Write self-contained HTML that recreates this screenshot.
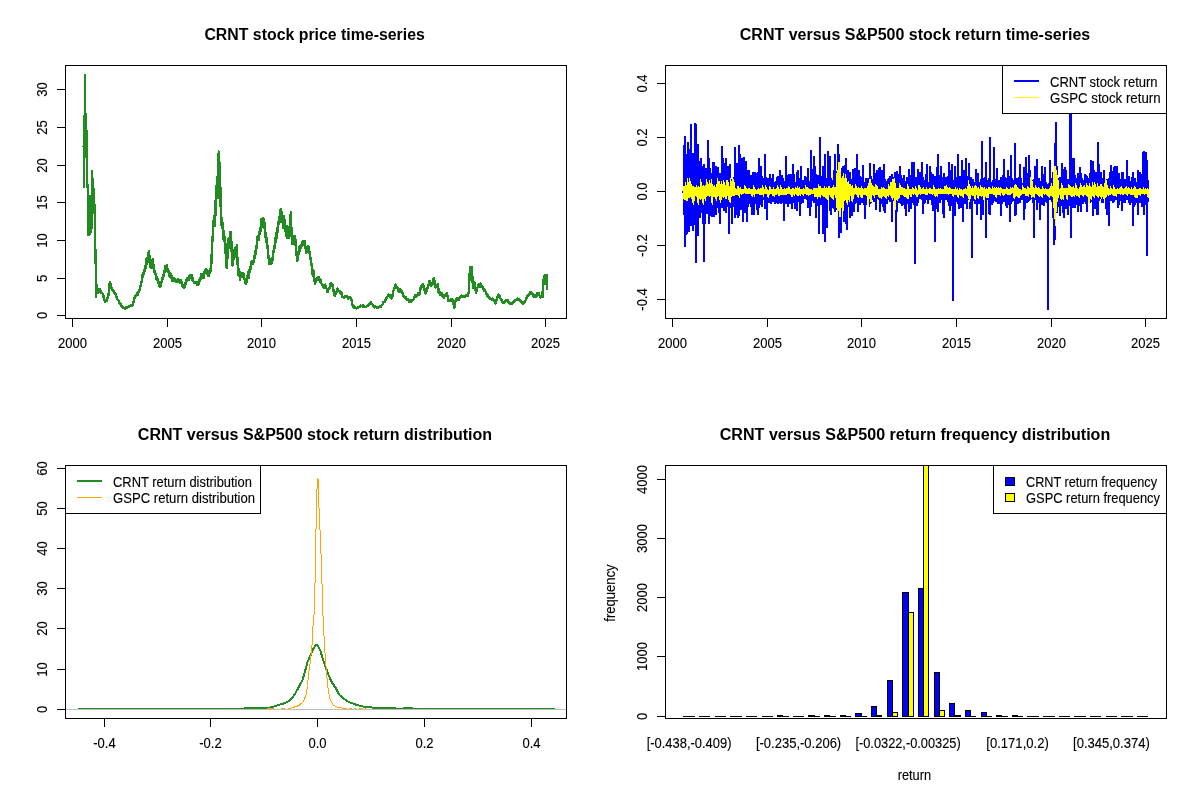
<!DOCTYPE html>
<html lang="en"><head><meta charset="utf-8"><title>CRNT versus S&amp;P500</title>
<style>
html,body{margin:0;padding:0;background:#fff;}
svg{display:block}
text{font-family:"Liberation Sans",Arial,sans-serif;fill:#000;}
.t{font-size:13.8px;stroke:#000;stroke-width:0.12px}
.h{font-size:15.94px;font-weight:bold}
</style></head><body>
<svg width="1200" height="800" viewBox="0 0 1200 800">
<rect width="1200" height="800" fill="#fff"/>
<g shape-rendering="crispEdges">
<path d="M82 146h1v1h-1zM83 115h1v73h-1zM84 74h1v114h-1zM85 74h1v84h-1zM86 113h1v75h-1zM87 130h1v106h-1zM88 184h1v52h-1zM89 195h1v41h-1zM90 195h1v40h-1zM91 170h1v63h-1zM92 170h1v59h-1zM93 178h1v36h-1zM94 188h1v76h-1zM95 204h1v94h-1zM96 249h1v49h-1z" fill="#228B22" stroke="none"/>
<path d="M95.8 297.0 L96.6 285.0 L97.2 287.0 L98.0 293.0 L98.5 290.4 L99.0 289.0 L99.5 288.8 L100.0 291.0 L100.5 292.2 L101.0 290.9 L101.5 293.0 L102.0 293.4 L102.5 293.2 L103.0 294.0 L103.5 295.7 L104.0 300.0 L104.5 300.8 L105.0 301.5 L105.5 300.1 L106.0 300.8 L106.5 299.7 L107.0 300.5 L107.5 297.6 L108.0 296.6 L108.5 295.0 L109.0 290.7 L109.5 284.0 L110.2 282.0 L111.0 288.0 L111.5 287.6 L112.0 290.0 L112.5 289.4 L113.0 291.1 L113.5 291.0 L114.0 293.2 L114.5 292.6 L115.0 293.0 L115.5 294.0 L116.0 297.1 L116.5 297.0 L117.0 296.8 L117.5 299.9 L118.0 300.0 L118.5 300.5 L119.0 301.2 L119.5 303.0 L120.0 302.8 L120.5 303.9 L121.0 305.0 L121.5 306.3 L122.0 305.6 L122.5 307.0 L123.0 307.5 L123.5 308.1 L124.0 308.0 L124.5 308.7 L125.0 309.0 L125.5 307.9 L126.0 307.5 L126.5 307.4 L127.0 307.5 L127.5 307.6 L128.0 306.9 L128.5 306.4 L129.0 306.5 L129.5 306.4 L130.0 305.9 L130.5 305.4 L131.0 305.5 L131.5 305.8 L132.0 305.4 L132.5 304.2 L133.0 304.5 L133.6 301.9 L134.2 299.0 L135.0 296.0 L135.5 295.6 L136.0 296.1 L136.5 295.2 L137.0 294.0 L137.5 292.8 L138.0 294.6 L138.5 291.2 L139.0 292.0 L139.5 289.7 L140.0 289.0 L140.5 286.0 L141.0 282.6 L141.5 282.0 L142.0 280.0 L142.0 279.1 L142.0 280.9 L142.0 280.0 L142.5 275.8 L142.5 274.8 L142.5 276.9 L142.5 275.8 L143.0 276.8 L143.0 276.3 L143.0 277.4 L143.0 276.8 L143.5 274.0 L143.5 273.1 L143.5 274.9 L143.5 274.0 L144.0 273.4 L144.0 272.5 L144.0 274.3 L144.0 273.4 L144.5 270.4 L144.5 269.2 L144.5 271.6 L144.5 270.4 L145.0 268.0 L145.0 266.7 L145.0 269.3 L145.0 268.0 L145.5 267.6 L145.5 266.3 L145.5 268.9 L145.5 267.6 L146.1 261.5 L146.1 260.3 L146.1 262.7 L146.1 261.5 L146.6 260.0 L146.6 258.4 L146.6 261.6 L146.6 260.0 L147.1 262.3 L147.1 261.0 L147.1 263.6 L147.1 262.3 L147.5 262.0 L147.5 260.7 L147.5 262.3 L147.5 262.0 L148.2 254.0 L148.2 253.0 L148.2 255.0 L148.2 254.0 L149.0 251.0 L149.0 251.0 L149.0 251.8 L149.0 251.0 L149.8 262.0 L149.8 261.2 L149.8 262.8 L149.8 262.0 L150.6 268.0 L150.6 267.1 L150.6 268.0 L150.6 268.0 L151.2 265.6 L151.2 264.9 L151.2 266.3 L151.2 265.6 L151.8 262.0 L151.8 260.6 L151.8 263.4 L151.8 262.0 L152.4 261.3 L152.4 260.1 L152.4 262.5 L152.4 261.3 L153.0 259.5 L153.0 259.5 L153.0 260.8 L153.0 259.5 L153.6 268.0 L153.6 266.9 L153.6 269.1 L153.6 268.0 L154.2 271.0 L154.2 269.9 L154.2 272.1 L154.2 271.0 L154.8 272.3 L154.8 271.4 L154.8 273.2 L154.8 272.3 L155.5 274.0 L155.5 273.5 L155.5 274.5 L155.5 274.0 L156.0 277.0 L156.0 276.0 L156.0 278.1 L156.0 277.0 L156.5 278.8 L156.5 277.9 L156.5 279.8 L156.5 278.8 L157.0 278.0 L157.0 277.2 L157.0 278.8 L157.0 278.0 L157.5 279.5 L157.5 278.8 L157.5 280.3 L157.5 279.5 L158.0 282.1 L158.5 283.0 L159.0 282.4 L159.5 286.1 L160.0 286.5 L160.5 285.6 L161.0 285.6 L161.5 282.0 L162.0 282.1 L162.5 278.3 L162.5 277.5 L162.5 279.2 L162.5 278.3 L163.0 278.0 L163.0 277.5 L163.0 278.5 L163.0 278.0 L163.5 275.4 L163.5 274.4 L163.5 276.4 L163.5 275.4 L164.0 274.9 L164.0 274.2 L164.0 275.5 L164.0 274.9 L164.5 272.0 L164.5 271.4 L164.5 272.6 L164.5 272.0 L165.2 266.8 L165.2 266.0 L165.2 267.6 L165.2 266.8 L165.8 267.0 L165.8 265.8 L165.8 268.2 L165.8 267.0 L166.6 265.0 L166.6 265.0 L166.6 265.8 L166.6 265.0 L167.1 267.3 L167.1 266.1 L167.1 268.5 L167.1 267.3 L167.6 270.0 L167.6 268.7 L167.6 271.3 L167.6 270.0 L168.1 269.9 L168.1 268.9 L168.1 270.8 L168.1 269.9 L168.5 271.3 L168.5 270.5 L168.5 272.2 L168.5 271.3 L169.0 275.0 L169.0 274.2 L169.0 275.8 L169.0 275.0 L169.5 273.3 L169.5 272.3 L169.5 274.3 L169.5 273.3 L170.0 277.3 L170.0 276.3 L170.0 277.3 L170.0 277.3 L170.5 274.7 L170.5 273.7 L170.5 275.6 L170.5 274.7 L171.0 277.0 L171.0 276.1 L171.0 277.9 L171.0 277.0 L171.5 276.5 L171.5 276.0 L171.5 277.1 L171.5 276.5 L172.0 278.0 L172.0 277.4 L172.0 278.5 L172.0 278.0 L172.5 281.0 L173.0 280.0 L173.0 279.4 L173.0 280.6 L173.0 280.0 L173.5 277.8 L173.5 277.8 L173.5 278.8 L173.5 277.8 L174.0 279.3 L174.0 278.6 L174.0 279.9 L174.0 279.3 L174.5 279.5 L174.5 278.7 L174.5 280.3 L174.5 279.5 L175.0 279.0 L175.0 278.6 L175.0 279.4 L175.0 279.0 L175.5 281.3 L176.0 281.5 L176.5 282.1 L177.0 281.0 L177.5 279.8 L177.5 279.6 L177.5 280.2 L177.5 279.8 L178.0 280.1 L178.0 279.6 L178.0 280.7 L178.0 280.1 L178.5 279.6 L178.5 279.6 L178.5 280.5 L178.5 279.6 L179.0 280.0 L179.0 279.6 L179.0 280.9 L179.0 280.0 L179.5 282.2 L180.0 283.0 L180.5 280.0 L180.5 280.0 L180.5 280.8 L180.5 280.0 L181.0 282.0 L181.5 282.0 L182.0 283.6 L182.5 286.0 L183.0 285.6 L183.5 287.3 L184.0 288.0 L184.5 287.0 L185.0 284.4 L185.5 284.0 L186.0 280.5 L186.5 281.0 L187.0 280.0 L187.0 279.4 L187.0 280.6 L187.0 280.0 L187.5 278.6 L187.5 277.9 L187.5 279.4 L187.5 278.6 L188.0 278.8 L188.0 278.1 L188.0 279.6 L188.0 278.8 L188.5 279.9 L188.5 279.2 L188.5 280.0 L188.5 279.9 L189.0 277.0 L189.0 276.5 L189.0 277.5 L189.0 277.0 L189.5 277.3 L189.5 276.2 L189.5 278.3 L189.5 277.3 L190.1 275.7 L190.1 275.1 L190.1 276.4 L190.1 275.7 L190.6 275.0 L190.6 275.0 L190.6 276.2 L190.6 275.0 L191.1 276.6 L191.1 275.5 L191.1 277.7 L191.1 276.6 L191.6 277.9 L191.6 277.4 L191.6 278.3 L191.6 277.9 L192.0 275.9 L192.0 275.1 L192.0 276.7 L192.0 275.9 L192.5 279.0 L192.5 278.0 L192.5 280.0 L192.5 279.0 L193.0 281.4 L193.5 281.5 L194.0 282.5 L194.5 282.7 L195.0 282.0 L195.5 282.2 L196.0 282.8 L196.5 282.2 L197.0 284.5 L197.5 284.9 L198.0 282.4 L198.5 284.0 L199.0 280.9 L199.5 280.2 L199.5 279.2 L199.5 281.3 L199.5 280.2 L200.0 278.7 L200.0 278.0 L200.0 279.5 L200.0 278.7 L200.5 279.0 L200.5 278.4 L200.5 279.6 L200.5 279.0 L201.0 276.9 L201.0 276.3 L201.0 277.5 L201.0 276.9 L201.5 274.1 L201.5 274.1 L201.5 275.3 L201.5 274.1 L202.0 275.0 L202.0 274.4 L202.0 275.6 L202.0 275.0 L202.5 274.1 L202.5 274.1 L202.5 275.0 L202.5 274.1 L203.0 278.0 L203.0 277.5 L203.0 278.0 L203.0 278.0 L203.5 275.8 L203.5 275.0 L203.5 276.7 L203.5 275.8 L204.0 277.0 L204.0 275.9 L204.0 278.0 L204.0 277.0 L204.5 272.5 L204.5 271.8 L204.5 273.1 L204.5 272.5 L205.0 272.0 L205.0 270.8 L205.0 273.2 L205.0 272.0 L205.7 269.5 L205.7 269.5 L205.7 270.5 L205.7 269.5 L206.3 270.5 L206.3 269.5 L206.3 271.8 L206.3 270.5 L207.0 273.0 L207.0 272.0 L207.0 274.0 L207.0 273.0 L207.5 271.2 L207.5 270.5 L207.5 271.9 L207.5 271.2 L208.1 276.2 L208.1 275.1 L208.1 276.2 L208.1 276.2 L208.6 275.0 L208.6 274.2 L208.6 275.8 L208.6 275.0 L209.1 274.6 L209.1 274.1 L209.1 275.1 L209.1 274.6 L209.5 271.2 L209.5 270.6 L209.5 271.7 L209.5 271.2 L210.0 272.0 L210.0 271.1 L210.0 272.9 L210.0 272.0 L210.5 269.9 L210.5 269.0 L210.5 270.8 L210.5 269.9 L211.0 270.5 L211.0 269.7 L211.0 271.3 L211.0 270.5 L211.6 258.0 L211.6 257.2 L211.6 258.8 L211.6 258.0 L212.0 246.0 L212.0 244.7 L212.0 247.3 L212.0 246.0 L212.6 238.0 L212.6 236.6 L212.6 239.4 L212.6 238.0 L213.2 228.0 L213.2 225.6 L213.2 230.4 L213.2 228.0 L213.8 219.0 L213.8 217.8 L213.8 220.2 L213.8 219.0 L214.4 224.0 L214.4 221.7 L214.4 226.3 L214.4 224.0 L214.9 210.0 L214.9 207.1 L214.9 212.9 L214.9 210.0 L215.4 203.0 L215.4 201.4 L215.4 204.6 L215.4 203.0 L215.9 212.0 L215.9 209.0 L215.9 215.0 L215.9 212.0 L216.4 190.0 L216.4 186.9 L216.4 193.1 L216.4 190.0 L217.0 180.5 L217.0 176.7 L217.0 184.3 L217.0 180.5 L217.5 196.0 L217.5 193.9 L217.5 198.1 L217.5 196.0 L218.0 170.0 L218.0 167.3 L218.0 172.7 L218.0 170.0 L218.8 151.5 L218.8 151.5 L218.8 154.6 L218.8 151.5 L219.2 176.0 L219.2 171.8 L219.2 180.2 L219.2 176.0 L219.6 166.0 L219.6 162.6 L219.6 169.4 L219.6 166.0 L220.0 198.5 L220.0 196.3 L220.0 200.7 L220.0 198.5 L220.4 190.0 L220.4 187.5 L220.4 192.5 L220.4 190.0 L221.0 223.0 L221.0 221.4 L221.0 224.6 L221.0 223.0 L221.8 219.0 L221.8 217.8 L221.8 220.2 L221.8 219.0 L222.3 223.0 L222.3 221.7 L222.3 224.2 L222.3 223.0 L222.8 230.0 L222.8 227.7 L222.8 232.3 L222.8 230.0 L223.5 238.0 L223.5 236.7 L223.5 239.3 L223.5 238.0 L224.2 234.0 L224.2 231.6 L224.2 236.4 L224.2 234.0 L225.0 247.0 L225.0 245.9 L225.0 248.1 L225.0 247.0 L225.5 252.6 L225.5 251.5 L225.5 253.7 L225.5 252.6 L226.1 246.0 L226.1 244.5 L226.1 247.5 L226.1 246.0 L226.7 268.0 L226.7 267.3 L226.7 268.0 L226.7 268.0 L227.3 250.0 L227.3 248.8 L227.3 251.2 L227.3 250.0 L228.0 256.0 L228.0 254.3 L228.0 257.7 L228.0 256.0 L228.6 240.0 L228.6 237.9 L228.6 242.1 L228.6 240.0 L229.2 246.0 L229.2 244.2 L229.2 247.8 L229.2 246.0 L230.0 236.0 L230.0 234.1 L230.0 237.9 L230.0 236.0 L230.5 232.8 L230.5 232.0 L230.5 235.1 L230.5 232.8 L231.0 232.0 L231.0 232.0 L231.0 234.4 L231.0 232.0 L231.6 250.0 L231.6 248.6 L231.6 251.4 L231.6 250.0 L232.2 244.0 L232.2 242.2 L232.2 245.8 L232.2 244.0 L232.7 265.5 L232.7 264.9 L232.7 265.5 L232.7 265.5 L233.4 252.0 L233.4 250.4 L233.4 253.6 L233.4 252.0 L234.2 258.0 L234.2 256.8 L234.2 259.2 L234.2 258.0 L235.0 255.0 L235.0 253.5 L235.0 256.5 L235.0 255.0 L235.4 249.2 L235.4 247.7 L235.4 250.8 L235.4 249.2 L235.9 249.0 L235.9 247.9 L235.9 250.1 L235.9 249.0 L236.4 249.6 L236.4 248.7 L236.4 250.4 L236.4 249.6 L236.8 244.7 L236.8 244.7 L236.8 246.7 L236.8 244.7 L237.5 262.0 L237.5 261.2 L237.5 262.8 L237.5 262.0 L238.1 271.3 L238.1 270.4 L238.1 272.2 L238.1 271.3 L238.6 275.0 L238.6 274.3 L238.6 275.7 L238.6 275.0 L239.2 270.0 L239.2 269.2 L239.2 270.8 L239.2 270.0 L240.0 279.6 L240.0 278.7 L240.0 279.6 L240.0 279.6 L240.5 276.6 L240.5 275.5 L240.5 277.8 L240.5 276.6 L241.0 274.0 L241.0 273.3 L241.0 274.7 L241.0 274.0 L241.5 275.4 L241.5 274.5 L241.5 276.4 L241.5 275.4 L242.0 277.0 L242.0 276.3 L242.0 277.0 L242.0 277.0 L242.5 273.4 L242.5 273.4 L242.5 274.4 L242.5 273.4 L243.0 274.0 L243.0 273.4 L243.0 274.8 L243.0 274.0 L243.5 273.7 L243.5 273.4 L243.5 274.3 L243.5 273.7 L244.0 276.6 L244.0 276.0 L244.0 277.2 L244.0 276.6 L244.5 279.0 L244.5 278.4 L244.5 279.6 L244.5 279.0 L245.2 280.5 L245.2 279.5 L245.2 281.5 L245.2 280.5 L245.8 284.0 L246.4 282.9 L247.0 279.0 L247.0 278.2 L247.0 279.8 L247.0 279.0 L247.5 275.9 L247.5 275.2 L247.5 276.5 L247.5 275.9 L248.0 273.6 L248.0 272.5 L248.0 274.8 L248.0 273.6 L248.5 276.8 L248.5 275.6 L248.5 278.0 L248.5 276.8 L249.0 273.0 L249.0 272.1 L249.0 273.9 L249.0 273.0 L249.4 271.7 L249.4 271.0 L249.4 272.3 L249.4 271.7 L249.9 268.0 L249.9 267.3 L249.9 268.8 L249.9 268.0 L250.4 268.7 L250.4 268.1 L250.4 269.4 L250.4 268.7 L250.8 267.0 L250.8 266.1 L250.8 267.9 L250.8 267.0 L251.4 262.3 L251.4 261.6 L251.4 263.1 L251.4 262.3 L252.0 263.6 L252.0 262.7 L252.0 264.4 L252.0 263.6 L252.6 261.6 L252.6 260.7 L252.6 262.5 L252.6 261.6 L253.2 263.2 L253.2 262.0 L253.2 263.6 L253.2 263.2 L253.7 261.0 L253.7 259.4 L253.7 262.5 L253.7 261.0 L254.3 257.0 L254.3 255.5 L254.3 258.5 L254.3 257.0 L254.9 256.9 L254.9 255.8 L254.9 258.0 L254.9 256.9 L255.4 252.4 L255.4 251.1 L255.4 253.6 L255.4 252.4 L256.0 252.6 L256.0 251.3 L256.0 253.9 L256.0 252.6 L256.5 247.3 L256.5 246.0 L256.5 248.6 L256.5 247.3 L257.0 244.0 L257.0 242.7 L257.0 245.3 L257.0 244.0 L257.5 237.7 L257.5 236.6 L257.5 238.7 L257.5 237.7 L258.0 237.0 L258.0 235.7 L258.0 238.3 L258.0 237.0 L258.6 237.5 L258.6 235.2 L258.6 239.8 L258.6 237.5 L259.2 233.0 L259.2 231.8 L259.2 234.2 L259.2 233.0 L259.8 231.8 L259.8 230.0 L259.8 233.6 L259.8 231.8 L260.4 230.0 L260.4 228.0 L260.4 232.0 L260.4 230.0 L261.2 222.0 L261.2 219.4 L261.2 224.6 L261.2 222.0 L262.0 225.0 L262.0 223.6 L262.0 226.4 L262.0 225.0 L262.7 217.7 L262.7 217.7 L262.7 219.4 L262.7 217.7 L263.5 226.0 L263.5 224.5 L263.5 227.5 L263.5 226.0 L264.2 221.0 L264.2 219.2 L264.2 222.8 L264.2 221.0 L265.0 228.0 L265.0 226.2 L265.0 229.8 L265.0 228.0 L265.5 235.1 L265.5 232.7 L265.5 237.4 L265.5 235.1 L266.0 237.0 L266.0 234.9 L266.0 239.1 L266.0 237.0 L266.5 240.1 L266.5 238.0 L266.5 242.2 L266.5 240.1 L267.0 246.0 L267.0 245.1 L267.0 246.9 L267.0 246.0 L267.5 246.9 L267.5 246.0 L267.5 247.7 L267.5 246.9 L268.0 252.0 L268.0 250.4 L268.0 253.6 L268.0 252.0 L268.5 257.2 L268.5 255.6 L268.5 258.8 L268.5 257.2 L269.0 258.0 L269.0 256.8 L269.0 259.2 L269.0 258.0 L269.5 263.5 L269.5 262.3 L269.5 264.0 L269.5 263.5 L270.0 262.7 L270.0 262.1 L270.0 263.3 L270.0 262.7 L270.5 264.0 L270.5 263.1 L270.5 264.0 L270.5 264.0 L270.9 262.9 L270.9 261.4 L270.9 264.0 L270.9 262.9 L271.4 260.0 L271.4 258.5 L271.4 261.5 L271.4 260.0 L271.9 261.1 L271.9 259.6 L271.9 262.6 L271.9 261.1 L272.3 259.6 L272.3 258.0 L272.3 261.3 L272.3 259.6 L272.8 257.0 L272.8 256.0 L272.8 258.0 L272.8 257.0 L273.4 251.5 L273.4 250.6 L273.4 252.4 L273.4 251.5 L274.0 250.0 L274.0 249.0 L274.0 251.0 L274.0 250.0 L274.5 246.9 L274.5 245.5 L274.5 248.4 L274.5 246.9 L275.0 243.6 L275.0 241.9 L275.0 245.3 L275.0 243.6 L275.5 240.2 L275.5 238.0 L275.5 242.4 L275.5 240.2 L275.9 235.1 L275.9 233.1 L275.9 237.1 L275.9 235.1 L276.4 237.0 L276.4 235.1 L276.4 238.9 L276.4 237.0 L276.9 230.4 L276.9 228.2 L276.9 232.6 L276.9 230.4 L277.3 230.3 L277.3 228.6 L277.3 232.0 L277.3 230.3 L277.8 230.0 L277.8 228.1 L277.8 231.9 L277.8 230.0 L278.3 223.6 L278.3 222.4 L278.3 224.8 L278.3 223.6 L278.8 222.0 L278.8 219.6 L278.8 224.4 L278.8 222.0 L279.3 220.6 L279.3 219.0 L279.3 222.1 L279.3 220.6 L279.8 215.0 L279.8 212.1 L279.8 217.9 L279.8 215.0 L280.7 208.7 L280.7 208.7 L280.7 211.2 L280.7 208.7 L281.4 220.0 L281.4 218.3 L281.4 221.7 L281.4 220.0 L282.2 214.0 L282.2 212.5 L282.2 215.5 L282.2 214.0 L283.0 228.0 L283.0 226.6 L283.0 228.0 L283.0 228.0 L283.7 218.0 L283.7 215.7 L283.7 220.3 L283.7 218.0 L284.3 226.0 L284.3 223.8 L284.3 228.2 L284.3 226.0 L285.0 221.0 L285.0 219.7 L285.0 222.3 L285.0 221.0 L285.7 232.0 L285.7 230.9 L285.7 233.1 L285.7 232.0 L286.1 234.4 L286.1 232.6 L286.1 236.1 L286.1 234.4 L286.6 228.0 L286.6 226.0 L286.6 230.0 L286.6 228.0 L287.5 237.0 L287.5 235.5 L287.5 238.0 L287.5 237.0 L288.3 232.0 L288.3 230.7 L288.3 233.3 L288.3 232.0 L289.0 238.0 L289.0 236.2 L289.0 238.0 L289.0 238.0 L289.7 226.0 L289.7 224.9 L289.7 227.1 L289.7 226.0 L290.3 222.0 L290.3 220.4 L290.3 223.6 L290.3 222.0 L290.8 212.0 L290.8 212.0 L290.8 214.1 L290.8 212.0 L291.4 230.0 L291.4 227.5 L291.4 232.5 L291.4 230.0 L292.0 243.6 L292.0 241.9 L292.0 243.6 L292.0 243.6 L292.5 240.4 L292.5 238.3 L292.5 242.5 L292.5 240.4 L293.0 238.0 L293.0 236.4 L293.0 239.6 L293.0 238.0 L293.5 243.3 L293.5 242.1 L293.5 243.6 L293.5 243.3 L294.0 241.0 L294.0 239.8 L294.0 242.2 L294.0 241.0 L294.5 242.6 L294.5 240.5 L294.5 244.7 L294.5 242.6 L295.0 235.7 L295.0 235.7 L295.0 237.7 L295.0 235.7 L295.8 245.0 L295.8 243.8 L295.8 246.2 L295.8 245.0 L296.4 252.0 L296.4 251.2 L296.4 252.8 L296.4 252.0 L297.0 260.5 L297.0 259.3 L297.0 260.8 L297.0 260.5 L297.5 260.8 L297.5 259.5 L297.5 260.8 L297.5 260.8 L298.0 255.0 L298.0 253.8 L298.0 256.2 L298.0 255.0 L298.5 252.5 L298.5 251.5 L298.5 253.6 L298.5 252.5 L299.0 252.0 L299.0 250.5 L299.0 253.5 L299.0 252.0 L299.5 248.7 L299.5 246.7 L299.5 250.6 L299.5 248.7 L300.0 249.5 L300.0 248.4 L300.0 250.6 L300.0 249.5 L300.6 246.1 L300.6 245.3 L300.6 247.0 L300.6 246.1 L301.2 247.0 L301.2 245.8 L301.2 248.2 L301.2 247.0 L301.9 243.1 L301.9 241.7 L301.9 244.5 L301.9 243.1 L302.5 244.0 L302.5 242.3 L302.5 245.7 L302.5 244.0 L303.1 240.8 L303.1 240.8 L303.1 242.0 L303.1 240.8 L303.6 242.5 L303.6 240.8 L303.6 244.4 L303.6 242.5 L304.2 242.8 L304.2 240.9 L304.2 244.6 L304.2 242.8 L304.8 241.0 L304.8 240.8 L304.8 242.6 L304.8 241.0 L305.4 247.0 L305.4 245.9 L305.4 248.1 L305.4 247.0 L306.0 251.0 L306.0 249.1 L306.0 252.5 L306.0 251.0 L306.6 252.5 L306.6 251.4 L306.6 252.5 L306.6 252.5 L307.2 248.0 L307.2 246.5 L307.2 249.8 L307.2 248.0 L307.9 249.9 L307.9 248.9 L307.9 251.0 L307.9 249.9 L308.5 246.5 L308.5 246.5 L308.5 247.6 L308.5 246.5 L309.2 251.0 L309.2 249.3 L309.2 252.7 L309.2 251.0 L310.0 255.5 L310.0 254.5 L310.0 256.5 L310.0 255.5 L310.8 260.0 L310.8 258.4 L310.8 261.6 L310.8 260.0 L311.5 264.5 L311.5 263.4 L311.5 265.6 L311.5 264.5 L312.1 270.0 L312.1 269.3 L312.1 270.7 L312.1 270.0 L312.7 275.0 L312.7 274.4 L312.7 275.6 L312.7 275.0 L313.4 271.0 L313.4 270.1 L313.4 271.9 L313.4 271.0 L314.0 273.5 L314.0 272.5 L314.0 274.5 L314.0 273.5 L314.5 280.0 L314.5 279.0 L314.5 281.0 L314.5 280.0 L315.0 284.0 L315.6 281.9 L316.2 280.0 L316.2 279.5 L316.2 280.5 L316.2 280.0 L316.9 279.7 L316.9 279.0 L316.9 280.4 L316.9 279.7 L317.5 278.0 L317.5 277.4 L317.5 278.6 L317.5 278.0 L318.0 279.9 L318.0 278.9 L318.0 280.2 L318.0 279.9 L318.5 277.1 L318.5 277.1 L318.5 277.6 L318.5 277.1 L319.0 279.5 L319.0 279.0 L319.0 280.0 L319.0 279.5 L319.5 280.2 L319.5 279.8 L319.5 280.7 L319.5 280.2 L320.0 281.4 L320.5 279.5 L320.5 279.5 L320.5 280.2 L320.5 279.5 L321.0 282.3 L321.5 283.6 L322.0 284.0 L322.5 285.1 L323.0 285.2 L323.5 287.7 L324.1 287.5 L324.6 285.0 L325.1 284.6 L325.7 285.5 L326.2 288.4 L326.7 289.0 L327.2 292.2 L327.7 292.0 L328.2 290.3 L328.7 289.0 L329.2 288.0 L329.6 288.7 L330.1 286.9 L330.6 283.7 L331.0 284.0 L331.5 283.5 L332.0 286.0 L332.5 285.1 L333.0 287.0 L333.5 291.0 L334.0 292.0 L334.5 295.0 L335.0 296.0 L335.5 293.6 L335.9 294.4 L336.4 292.0 L337.0 291.9 L337.7 288.5 L338.4 290.3 L339.0 291.0 L339.5 291.0 L340.0 292.0 L340.4 292.9 L340.9 292.3 L341.4 292.7 L341.8 295.0 L342.3 297.0 L342.8 296.7 L343.2 297.0 L343.7 297.5 L344.2 298.2 L344.7 296.3 L345.2 296.0 L345.7 297.1 L346.2 297.0 L346.7 296.0 L347.4 296.7 L348.0 299.0 L348.5 297.8 L349.0 297.4 L349.5 297.5 L350.0 296.9 L350.5 298.1 L351.0 298.0 L351.5 299.9 L352.0 303.0 L352.5 304.6 L353.0 306.5 L353.5 306.1 L354.0 307.8 L354.5 307.0 L355.0 307.5 L355.5 307.6 L356.0 307.9 L356.5 308.6 L357.0 308.0 L357.5 307.7 L358.0 308.3 L358.5 307.4 L359.0 307.3 L359.5 307.0 L360.1 306.8 L360.6 305.6 L361.1 306.1 L361.7 306.0 L362.2 305.5 L362.6 305.2 L363.1 306.9 L363.5 305.8 L364.0 306.5 L364.5 306.6 L365.0 307.2 L365.5 307.0 L366.0 307.0 L366.5 306.3 L367.0 306.2 L367.5 305.9 L368.0 306.0 L368.5 305.0 L369.0 303.7 L369.5 304.1 L370.0 302.9 L370.5 302.5 L371.0 302.5 L371.5 303.8 L371.9 303.9 L372.4 304.5 L373.0 305.4 L373.7 306.0 L374.1 306.8 L374.6 307.3 L375.1 306.6 L375.5 307.0 L376.0 307.4 L376.5 307.4 L377.0 307.5 L377.5 307.7 L378.0 307.9 L378.5 307.3 L379.0 307.2 L379.5 307.0 L380.0 306.5 L380.5 307.0 L381.0 305.7 L381.5 305.4 L382.0 305.1 L382.5 304.6 L383.0 303.0 L383.5 301.8 L384.0 301.9 L384.5 302.2 L385.0 300.5 L385.5 300.6 L386.0 298.0 L386.5 297.2 L387.0 297.5 L387.6 296.5 L388.1 294.6 L388.7 295.0 L389.2 294.9 L389.7 295.1 L390.2 297.0 L390.7 297.8 L391.2 298.5 L391.7 298.0 L392.2 297.2 L392.8 294.0 L393.4 290.8 L394.0 290.0 L394.5 288.8 L395.0 286.0 L395.8 284.7 L396.4 287.0 L397.0 288.0 L397.5 287.4 L398.0 290.7 L398.5 290.0 L399.0 291.7 L399.5 289.0 L400.0 290.0 L400.5 291.8 L401.0 290.1 L401.5 290.7 L402.1 292.1 L402.6 293.5 L403.1 296.3 L403.7 296.0 L404.4 297.7 L405.0 297.5 L405.5 297.1 L406.0 298.3 L406.5 299.0 L407.0 299.1 L407.5 300.0 L408.0 299.6 L408.5 300.2 L409.1 301.5 L409.6 300.2 L410.1 301.8 L410.6 302.0 L411.1 301.5 L411.7 300.2 L412.2 301.0 L412.7 300.0 L413.2 300.3 L413.7 299.4 L414.1 298.2 L414.6 297.0 L415.1 294.7 L415.6 295.0 L416.1 296.5 L416.6 295.9 L417.0 296.4 L417.5 295.0 L418.0 293.6 L418.4 294.0 L418.9 293.1 L419.4 294.4 L420.2 290.0 L421.0 286.0 L421.5 287.1 L421.9 285.1 L422.4 286.0 L423.0 284.3 L423.7 285.6 L424.1 287.5 L424.6 290.0 L425.1 293.2 L425.6 293.7 L426.2 292.9 L426.8 290.0 L427.4 287.9 L428.0 287.5 L428.7 284.0 L429.4 281.0 L430.0 280.7 L430.6 283.5 L431.1 285.7 L431.5 284.8 L432.0 285.0 L432.5 284.1 L433.0 281.5 L433.5 278.2 L433.5 278.2 L433.5 279.3 L433.5 278.2 L434.0 278.7 L434.0 278.2 L434.0 279.7 L434.0 278.7 L434.8 283.0 L435.6 287.5 L436.2 284.8 L436.8 285.5 L437.4 285.7 L438.0 284.4 L438.4 289.0 L438.7 293.0 L439.1 293.0 L439.6 292.1 L440.1 295.1 L440.5 294.0 L441.0 294.7 L441.5 295.4 L442.0 293.5 L442.5 295.0 L443.1 297.0 L443.7 298.0 L444.2 298.0 L444.8 294.7 L445.3 295.0 L445.8 295.5 L446.4 293.5 L446.9 293.0 L447.7 297.0 L448.5 301.0 L449.0 300.4 L449.5 300.5 L450.1 300.7 L450.6 300.6 L451.1 301.1 L451.5 298.7 L452.0 298.7 L452.6 299.9 L453.2 303.0 L453.8 305.6 L454.4 308.0 L455.2 303.0 L456.0 298.7 L456.5 298.3 L456.9 298.2 L457.4 299.5 L458.0 298.9 L458.7 300.0 L459.2 298.0 L459.8 297.5 L460.3 297.5 L460.8 296.3 L461.4 295.7 L461.9 295.6 L462.5 296.8 L463.2 296.5 L463.8 296.1 L464.4 296.9 L464.9 296.7 L465.5 295.6 L466.0 296.3 L466.5 295.8 L467.0 294.7 L467.5 296.0 L468.2 294.0 L468.7 292.5 L469.3 280.0 L469.3 279.1 L469.3 280.9 L469.3 280.0 L470.0 267.5 L470.0 266.8 L470.0 268.9 L470.0 267.5 L470.5 266.8 L470.5 266.8 L470.5 268.2 L470.5 266.8 L471.0 269.0 L471.0 268.2 L471.0 269.8 L471.0 269.0 L471.5 266.8 L471.5 266.8 L471.5 267.5 L471.5 266.8 L472.0 270.0 L472.0 268.7 L472.0 271.3 L472.0 270.0 L472.5 279.0 L472.5 278.1 L472.5 279.9 L472.5 279.0 L473.0 287.5 L473.7 285.0 L474.4 282.5 L475.2 288.0 L476.0 292.5 L476.5 291.6 L477.0 289.0 L477.5 287.7 L478.0 286.0 L478.5 284.6 L479.0 285.6 L479.5 285.5 L480.0 287.1 L480.5 283.6 L481.0 285.0 L481.6 287.1 L482.1 286.4 L482.7 287.5 L483.3 288.3 L483.8 290.4 L484.4 290.0 L484.9 290.5 L485.5 291.7 L486.0 292.5 L486.5 293.9 L487.0 295.7 L487.5 295.0 L488.1 295.4 L488.6 297.6 L489.2 297.5 L489.6 298.5 L490.1 298.8 L490.6 298.7 L491.0 299.4 L491.6 299.2 L492.3 299.8 L492.8 298.7 L493.2 299.0 L493.7 300.0 L494.1 299.9 L494.6 302.0 L495.1 303.4 L495.6 303.7 L496.2 301.0 L496.8 299.5 L497.4 296.6 L498.0 295.6 L498.5 294.6 L499.0 296.0 L499.5 297.2 L500.0 296.5 L500.6 299.0 L501.3 299.5 L501.9 301.4 L502.5 302.5 L503.0 302.0 L503.5 302.5 L504.0 301.9 L504.5 302.5 L505.0 301.5 L505.5 301.4 L506.0 301.0 L506.5 299.8 L507.0 300.2 L507.5 300.0 L508.0 300.1 L508.5 302.4 L509.0 302.0 L509.5 303.6 L510.0 303.1 L510.5 303.5 L511.0 302.8 L511.5 304.2 L512.0 303.0 L512.5 302.4 L513.0 302.3 L513.5 302.5 L514.1 300.7 L514.6 300.9 L515.2 300.5 L515.8 299.9 L516.4 299.5 L517.0 299.0 L517.5 298.6 L518.0 299.7 L518.5 300.0 L519.0 299.1 L519.5 300.1 L520.0 301.0 L520.5 300.5 L521.0 301.8 L521.5 302.5 L522.0 301.8 L522.5 302.1 L523.0 303.5 L523.5 302.6 L524.0 302.5 L524.5 301.4 L525.0 301.5 L525.6 300.2 L526.2 298.5 L526.9 297.3 L527.5 296.0 L528.0 296.1 L528.5 295.2 L529.0 294.0 L529.5 294.0 L530.0 293.9 L530.5 292.0 L531.1 292.4 L531.8 293.5 L532.4 293.5 L533.0 294.5 L533.6 296.7 L534.2 296.0 L534.9 295.5 L535.5 297.0 L536.0 297.0 L536.5 296.1 L537.0 295.0 L537.5 292.9 L538.0 294.7 L538.5 293.0 L539.3 295.0 L540.0 296.0 L540.6 297.4 L541.2 296.5 L541.9 297.1 L542.5 297.0 L542.8 289.0 L543.0 282.0 L543.8 278.5 L543.8 278.0 L543.8 279.0 L543.8 278.5 L544.6 276.0 L544.6 275.3 L544.6 276.9 L544.6 276.0 L544.9 284.0 L545.4 275.3 L545.4 275.3 L545.4 276.1 L545.4 275.3 L545.8 283.0 L546.2 275.6 L546.2 275.3 L546.2 276.3 L546.2 275.6 L547.0 276.2 L547.0 275.5 L547.0 276.9 L547.0 276.2 L547.3 289.0" stroke="#228B22" stroke-width="2.4" fill="none" stroke-linejoin="round" stroke-linecap="round"/>
<rect x="65.5" y="65.5" width="501" height="253" fill="none" stroke="#000" stroke-width="1"/>
<path d="M72.5 318.5H545.5" stroke="#000" fill="none"/>
<path d="M72.5 318.5V326.5" stroke="#000" fill="none"/>
<path d="M167.5 318.5V326.5" stroke="#000" fill="none"/>
<path d="M261.5 318.5V326.5" stroke="#000" fill="none"/>
<path d="M356.5 318.5V326.5" stroke="#000" fill="none"/>
<path d="M451.5 318.5V326.5" stroke="#000" fill="none"/>
<path d="M545.5 318.5V326.5" stroke="#000" fill="none"/>
<text x="72.5" y="347.6" text-anchor="middle" class="t" textLength="28.92" lengthAdjust="spacingAndGlyphs">2000</text>
<text x="167.5" y="347.6" text-anchor="middle" class="t" textLength="28.92" lengthAdjust="spacingAndGlyphs">2005</text>
<text x="261.5" y="347.6" text-anchor="middle" class="t" textLength="28.92" lengthAdjust="spacingAndGlyphs">2010</text>
<text x="356.5" y="347.6" text-anchor="middle" class="t" textLength="28.92" lengthAdjust="spacingAndGlyphs">2015</text>
<text x="451.5" y="347.6" text-anchor="middle" class="t" textLength="28.92" lengthAdjust="spacingAndGlyphs">2020</text>
<text x="545.5" y="347.6" text-anchor="middle" class="t" textLength="28.92" lengthAdjust="spacingAndGlyphs">2025</text>
<path d="M65.5 89.5V315.5" stroke="#000" fill="none"/>
<path d="M65.5 315.5H56.5" stroke="#000" fill="none"/>
<text transform="translate(46.6 315.5) rotate(-90)" text-anchor="middle" class="t" textLength="7.23" lengthAdjust="spacingAndGlyphs">0</text>
<path d="M65.5 278.5H56.5" stroke="#000" fill="none"/>
<text transform="translate(46.6 278.5) rotate(-90)" text-anchor="middle" class="t" textLength="7.23" lengthAdjust="spacingAndGlyphs">5</text>
<path d="M65.5 240.5H56.5" stroke="#000" fill="none"/>
<text transform="translate(46.6 240.5) rotate(-90)" text-anchor="middle" class="t" textLength="14.47" lengthAdjust="spacingAndGlyphs">10</text>
<path d="M65.5 202.5H56.5" stroke="#000" fill="none"/>
<text transform="translate(46.6 202.5) rotate(-90)" text-anchor="middle" class="t" textLength="14.47" lengthAdjust="spacingAndGlyphs">15</text>
<path d="M65.5 165.5H56.5" stroke="#000" fill="none"/>
<text transform="translate(46.6 165.5) rotate(-90)" text-anchor="middle" class="t" textLength="14.47" lengthAdjust="spacingAndGlyphs">20</text>
<path d="M65.5 127.5H56.5" stroke="#000" fill="none"/>
<text transform="translate(46.6 127.5) rotate(-90)" text-anchor="middle" class="t" textLength="14.47" lengthAdjust="spacingAndGlyphs">25</text>
<path d="M65.5 89.5H56.5" stroke="#000" fill="none"/>
<text transform="translate(46.6 89.5) rotate(-90)" text-anchor="middle" class="t" textLength="14.47" lengthAdjust="spacingAndGlyphs">30</text>
<path d="M682.0 191.5H684.0" stroke="#0000FF" stroke-width="2" fill="none"/>
<path d="M684 145V215M685 136V247M686 154V235M687 163V234M688 142V223M689 149V232M690 156V215M691 124V226M692 164V210M693 153V231M694 161V225M695 123V218M696 124V263M697 165V208M698 144V236M699 161V211M700 163V218M701 158V213M702 173V212M703 166V224M704 164V262M705 174V224M706 168V209M707 169V214M708 140V214M709 158V224M710 168V216M711 173V211M712 177V217M713 162V209M714 162V217M715 176V214M716 166V215M717 170V206M718 167V208M719 173V213M720 176V224M721 173V207M722 146V208M723 158V206M724 177V211M725 163V211M726 158V213M727 178V207M728 166V204M729 176V234M730 164V206M731 179V208M732 179V224M733 179V206M734 177V207M735 147V218M736 175V208M737 163V215M738 179V218M739 145V216M740 154V205M741 178V210M742 158V206M743 158V222M744 157V204M745 178V213M746 161V212M747 170V222M748 179V207M749 170V204M750 181V204M751 175V207M752 179V215M753 172V201M754 173V215M755 172V204M756 178V201M757 173V210M758 172V215M759 158V208M760 176V205M761 166V204M762 176V207M763 180V200M764 178V200M765 154V209M766 177V204M767 180V220M768 178V198M769 178V203M770 174V199M771 178V204M772 182V201M773 174V202M774 182V198M775 182V204M776 181V200M777 177V203M778 176V204M779 177V203M780 170V199M781 175V204M782 175V203M783 178V199M784 181V221M785 183V204M786 156V199M787 177V204M788 175V207M789 174V200M790 181V204M791 174V199M792 180V209M793 164V199M794 174V203M795 183V209M796 182V201M797 172V211M798 170V199M799 178V202M800 181V216M801 166V204M802 181V200M803 180V203M804 181V199M805 176V199M806 178V199M807 177V200M808 168V208M809 181V199M810 182V216M811 150V207M812 176V201M813 169V200M814 156V203M815 166V203M816 174V218M817 178V205M818 175V206M819 176V234M820 137V205M821 176V203M822 177V205M823 166V234M824 178V200M825 154V242M826 181V204M827 178V228M828 151V201M829 179V200M830 156V211M831 178V215M832 180V207M833 180V208M834 170V209M835 154V212M836 171V210M837 175V204M838 144V205M839 154V238M840 176V205M841 174V233M842 168V203M843 166V204M844 166V222M845 165V205M846 158V224M847 172V230M848 170V204M849 173V207M850 172V218M851 182V200M852 179V216M853 169V204M854 180V212M855 168V204M856 180V203M857 154V203M858 176V212M859 170V202M860 176V205M861 179V203M862 177V201M863 165V203M864 182V205M865 182V219M866 178V205M867 178V203M868 178V201M869 179V207M870 163V204M871 176V203M872 181V200M873 179V199M874 164V202M875 173V202M876 176V210M877 170V198M878 183V199M879 168V200M880 167V212M881 170V203M882 177V204M883 170V207M884 164V211M885 179V213M886 181V202M887 181V204M888 179V199M889 178V200M890 176V202M891 180V201M892 174V222M893 183V201M894 177V199M895 172V202M896 177V242M897 171V212M898 177V202M899 174V203M900 166V203M901 175V204M902 180V206M903 178V202M904 175V205M905 183V209M906 181V216M907 177V202M908 178V204M909 169V212M910 175V202M911 180V209M912 162V200M913 179V203M914 162V205M915 183V264M916 177V199M917 178V206M918 169V203M919 179V199M920 172V199M921 182V198M922 162V200M923 177V214M924 183V204M925 180V203M926 174V199M927 164V200M928 182V204M929 182V200M930 166V199M931 172V200M932 182V205M933 174V211M934 181V198M935 176V242M936 182V209M937 167V205M938 154V212M939 182V203M940 175V203M941 166V200M942 177V198M943 180V214M944 173V218M945 180V199M946 177V200M947 181V199M948 176V202M949 162V206M950 182V211M951 170V202M952 164V206M953 180V301M954 182V209M955 166V216M956 180V202M957 177V200M958 154V204M959 177V209M960 176V200M961 179V208M962 160V204M963 177V222M964 170V200M965 181V204M966 158V201M967 181V209M968 176V200M969 163V199M970 180V209M971 177V202M972 182V258M973 179V200M974 182V201M975 183V204M976 169V200M977 181V215M978 173V201M979 183V204M980 182V201M981 179V220M982 141V203M983 178V215M984 183V202M985 177V200M986 162V238M987 181V200M988 180V200M989 178V214M990 137V215M991 182V203M992 182V205M993 180V203M994 147V201M995 179V200M996 181V202M997 168V200M998 180V204M999 181V204M1000 180V199M1001 177V216M1002 179V204M1003 175V201M1004 159V202M1005 177V198M1006 178V206M1007 178V208M1008 170V202M1009 177V205M1010 176V222M1011 155V204M1012 178V202M1013 183V199M1014 180V201M1015 143V216M1016 181V215M1017 178V203M1018 182V204M1019 177V200M1020 164V203M1021 178V199M1022 183V200M1023 183V200M1024 167V220M1025 183V209M1026 157V199M1027 173V203M1028 183V202M1029 155V201M1030 170V200M1031 180V199M1032 182V199M1033 180V203M1034 179V238M1035 166V200M1036 183V200M1037 159V210M1038 182V203M1039 178V199M1040 184V220M1041 181V202M1042 166V205M1043 178V205M1044 174V206M1045 167V201M1046 182V202M1047 184V203M1048 184V310M1049 183V199M1050 160V200M1051 178V198M1052 181V202M1053 172V218M1054 176V245M1055 143V240M1056 122V206M1057 166V213M1058 179V207M1059 178V205M1060 177V216M1061 177V206M1062 163V206M1063 173V213M1064 169V218M1065 167V205M1066 170V209M1067 180V209M1068 179V215M1069 180V206M1070 75V203M1071 100V238M1072 179V208M1073 158V208M1074 158V204M1075 175V208M1076 183V203M1077 178V205M1078 173V212M1079 182V206M1080 167V199M1081 173V212M1082 178V201M1083 180V204M1084 182V202M1085 174V201M1086 175V204M1087 176V212M1088 178V202M1089 179V201M1090 173V203M1091 160V201M1092 180V202M1093 161V216M1094 170V200M1095 179V209M1096 172V199M1097 176V215M1098 142V215M1099 164V201M1100 183V198M1101 172V199M1102 179V203M1103 178V203M1104 170V200M1105 179V199M1106 179V209M1107 183V215M1108 179V199M1109 178V226M1110 172V200M1111 165V201M1112 171V198M1113 183V203M1114 167V202M1115 166V200M1116 174V199M1117 166V200M1118 180V208M1119 173V205M1120 179V200M1121 182V201M1122 172V211M1123 172V202M1124 182V203M1125 179V203M1126 180V200M1127 160V200M1128 181V199M1129 176V203M1130 181V205M1131 182V202M1132 177V203M1133 172V226M1134 178V207M1135 178V205M1136 182V199M1137 182V203M1138 170V215M1139 183V203M1140 172V203M1141 174V202M1142 181V207M1143 152V200M1144 151V215M1145 180V198M1146 152V205M1147 160V256M1148 180V202" stroke="#0000FF" stroke-width="2" fill="none"/>
<path d="M683.0 191.5 L683.8 186.0 L684.2 200.2 L684.8 186.4 L685.2 199.9 L685.8 182.4 L686.2 200.7 L686.8 186.1 L687.2 200.7 L687.8 178.1 L688.2 197.7 L688.8 186.3 L689.2 198.2 L689.8 178.1 L690.2 196.1 L690.8 187.4 L691.2 197.8 L691.8 183.7 L692.2 200.7 L692.8 185.8 L693.2 204.9 L693.8 186.5 L694.2 200.5 L694.8 187.1 L695.2 195.7 L695.8 186.9 L696.2 195.8 L696.8 185.0 L697.2 198.4 L697.8 186.7 L698.2 204.9 L698.8 185.8 L699.2 196.2 L699.8 186.7 L700.2 200.2 L700.8 178.7 L701.2 196.2 L701.8 187.3 L702.2 200.8 L702.8 186.4 L703.2 204.9 L703.8 185.0 L704.2 199.1 L704.8 185.9 L705.2 201.1 L705.8 185.3 L706.2 197.0 L706.8 179.4 L707.2 196.0 L707.8 182.9 L708.2 195.8 L708.8 183.8 L709.2 197.4 L709.8 180.5 L710.2 195.8 L710.8 184.5 L711.2 197.4 L711.8 178.8 L712.2 204.9 L712.8 184.0 L713.2 196.5 L713.8 186.4 L714.2 196.7 L714.8 185.4 L715.2 196.5 L715.8 186.6 L716.2 200.5 L716.8 183.9 L717.2 196.8 L717.8 178.1 L718.2 196.4 L718.8 184.5 L719.2 196.2 L719.8 180.6 L720.2 202.6 L720.8 186.3 L721.2 200.4 L721.8 181.5 L722.2 196.8 L722.8 186.0 L723.2 197.9 L723.8 179.8 L724.2 196.2 L724.8 183.5 L725.2 198.7 L725.8 185.3 L726.2 198.6 L726.8 180.0 L727.2 196.4 L727.8 180.0 L728.2 197.1 L728.8 182.2 L729.2 202.4 L729.8 186.7 L730.2 202.5 L730.8 178.1 L731.2 196.8 L731.8 187.3 L732.2 196.0 L732.8 178.1 L733.2 195.6 L733.8 179.1 L734.2 196.2 L734.8 187.6 L735.2 193.5 L735.8 189.4 L736.2 195.1 L736.8 189.5 L737.2 194.0 L737.8 185.8 L738.2 195.3 L738.8 186.4 L739.2 197.5 L739.8 189.6 L740.2 193.8 L740.8 187.3 L741.2 195.1 L741.8 189.6 L742.2 194.4 L742.8 189.3 L743.2 194.2 L743.8 189.5 L744.2 193.4 L744.8 185.5 L745.2 193.9 L745.8 186.4 L746.2 193.5 L746.8 188.6 L747.2 193.6 L747.8 188.8 L748.2 193.6 L748.8 187.9 L749.2 193.6 L749.8 187.6 L750.2 194.4 L750.8 189.5 L751.2 194.0 L751.8 188.6 L752.2 197.2 L752.8 189.0 L753.2 193.7 L753.8 185.5 L754.2 196.6 L754.8 187.6 L755.2 193.8 L755.8 189.4 L756.2 193.8 L756.8 189.6 L757.2 193.4 L757.8 188.6 L758.2 194.1 L758.8 188.4 L759.2 194.0 L759.8 189.6 L760.2 195.1 L760.8 188.0 L761.2 194.5 L761.8 188.4 L762.2 195.1 L762.8 185.5 L763.2 196.5 L763.8 187.7 L764.2 194.1 L764.8 189.1 L765.2 194.2 L765.8 185.5 L766.2 194.1 L766.8 188.9 L767.2 194.1 L767.8 189.4 L768.2 197.5 L768.8 189.7 L769.2 194.8 L769.8 185.7 L770.2 193.8 L770.8 188.2 L771.2 194.1 L771.8 189.2 L772.2 193.7 L772.8 189.5 L773.2 196.2 L773.8 187.3 L774.2 197.0 L774.8 189.6 L775.2 195.2 L775.8 189.1 L776.2 194.9 L776.8 188.4 L777.2 193.9 L777.8 185.5 L778.2 193.3 L778.8 187.6 L779.2 196.3 L779.8 188.6 L780.2 194.7 L780.8 185.5 L781.2 193.7 L781.8 188.1 L782.2 195.4 L782.8 188.9 L783.2 195.2 L783.8 188.9 L784.2 194.5 L784.8 188.2 L785.2 195.1 L785.8 189.1 L786.2 194.9 L786.8 188.5 L787.2 193.7 L787.8 188.2 L788.2 193.8 L788.8 186.0 L789.2 194.3 L789.8 187.7 L790.2 194.5 L790.8 188.7 L791.2 193.7 L791.8 189.4 L792.2 197.4 L792.8 188.5 L793.2 194.5 L793.8 188.5 L794.2 195.9 L794.8 189.2 L795.2 193.6 L795.8 187.0 L796.2 194.3 L796.8 188.1 L797.2 196.0 L797.8 186.2 L798.2 196.4 L798.8 189.6 L799.2 194.1 L799.8 186.9 L800.2 196.0 L800.8 189.5 L801.2 193.6 L801.8 189.2 L802.2 193.5 L802.8 189.0 L803.2 195.8 L803.8 188.5 L804.2 194.3 L804.8 189.5 L805.2 194.1 L805.8 185.5 L806.2 195.2 L806.8 188.7 L807.2 194.3 L807.8 187.2 L808.2 195.5 L808.8 189.4 L809.2 195.1 L809.8 189.0 L810.2 194.5 L810.8 189.2 L811.2 194.1 L811.8 189.0 L812.2 194.1 L812.8 189.6 L813.2 193.7 L813.8 188.4 L814.2 193.4 L814.8 188.2 L815.2 197.3 L815.8 187.9 L816.2 195.2 L816.8 188.0 L817.2 198.5 L817.8 188.5 L818.2 196.7 L818.8 184.1 L819.2 194.8 L819.8 187.4 L820.2 198.0 L820.8 186.4 L821.2 195.4 L821.8 188.6 L822.2 195.7 L822.8 187.6 L823.2 197.2 L823.8 187.9 L824.2 195.5 L824.8 186.2 L825.2 198.2 L825.8 187.7 L826.2 195.5 L826.8 186.7 L827.2 200.4 L827.8 188.2 L828.2 200.6 L828.8 185.8 L829.2 195.4 L829.8 186.1 L830.2 195.3 L830.8 188.5 L831.2 197.6 L831.8 187.6 L832.2 196.1 L832.8 187.1 L833.2 199.7 L833.8 185.4 L834.2 194.4 L834.8 186.6 L835.2 195.8 L835.8 187.2 L836.2 198.6 L836.8 173.1 L837.2 211.8 L837.8 170.0 L838.2 210.0 L838.8 161.7 L839.2 216.5 L839.8 161.7 L840.2 216.5 L840.8 172.0 L841.2 208.0 L841.8 181.6 L842.2 210.2 L842.8 176.5 L843.2 211.4 L843.8 173.1 L844.2 200.7 L844.8 182.2 L845.2 199.7 L845.8 174.4 L846.2 199.2 L846.8 184.6 L847.2 205.4 L847.8 181.7 L848.2 197.6 L848.8 181.4 L849.2 202.0 L849.8 184.5 L850.2 196.2 L850.8 183.8 L851.2 197.1 L851.8 185.9 L852.2 202.1 L852.8 185.2 L853.2 198.6 L853.8 188.8 L854.2 194.7 L854.8 187.7 L855.2 193.9 L855.8 183.8 L856.2 194.5 L856.8 188.5 L857.2 194.6 L857.8 188.5 L858.2 197.8 L858.8 187.5 L859.2 195.3 L859.8 188.0 L860.2 194.0 L860.8 188.4 L861.2 197.9 L861.8 185.9 L862.2 197.7 L862.8 188.5 L863.2 194.3 L863.8 189.0 L864.2 195.4 L864.8 188.2 L865.2 195.1 L865.8 187.8 L866.2 195.6 L866.8 188.2 L867.2 197.1 L867.8 185.7 L868.2 206.6 L868.8 183.4 L869.2 196.5 L869.8 179.0 L870.2 201.5 L870.8 179.0 L871.2 201.5 L871.8 187.7 L872.2 195.1 L872.8 185.3 L873.2 194.9 L873.8 186.3 L874.2 197.5 L874.8 187.2 L875.2 195.2 L875.8 183.6 L876.2 195.1 L876.8 184.8 L877.2 194.0 L877.8 188.0 L878.2 195.9 L878.8 189.0 L879.2 197.9 L879.8 189.0 L880.2 195.7 L880.8 188.7 L881.2 199.0 L881.8 187.5 L882.2 197.1 L882.8 187.7 L883.2 196.1 L883.8 186.9 L884.2 194.6 L884.8 188.6 L885.2 197.5 L885.8 188.8 L886.2 198.8 L886.8 188.7 L887.2 194.1 L887.8 188.9 L888.2 196.9 L888.8 183.8 L889.2 194.9 L889.8 187.0 L890.2 194.5 L890.8 182.0 L891.2 197.8 L891.8 182.4 L892.2 199.8 L892.8 179.4 L893.2 197.8 L893.8 179.3 L894.2 197.8 L894.8 178.0 L895.2 210.0 L895.8 186.9 L896.2 197.4 L896.8 188.0 L897.2 200.9 L897.8 187.7 L898.2 198.8 L898.8 188.4 L899.2 197.8 L899.8 183.1 L900.2 195.2 L900.8 188.9 L901.2 195.0 L901.8 186.9 L902.2 194.5 L902.8 187.4 L903.2 194.1 L903.8 187.8 L904.2 196.6 L904.8 188.0 L905.2 196.2 L905.8 188.9 L906.2 197.4 L906.8 188.8 L907.2 199.0 L907.8 183.7 L908.2 199.3 L908.8 188.5 L909.2 193.9 L909.8 189.0 L910.2 195.5 L910.8 188.6 L911.2 197.4 L911.8 189.5 L912.2 194.4 L912.8 186.6 L913.2 194.7 L913.8 188.5 L914.2 193.5 L914.8 189.4 L915.2 193.8 L915.8 186.2 L916.2 196.2 L916.8 189.3 L917.2 197.3 L917.8 189.6 L918.2 194.7 L918.8 185.5 L919.2 194.0 L919.8 185.5 L920.2 195.0 L920.8 189.6 L921.2 194.0 L921.8 188.7 L922.2 193.8 L922.8 187.6 L923.2 193.6 L923.8 187.3 L924.2 193.9 L924.8 189.5 L925.2 194.6 L925.8 189.5 L926.2 194.6 L926.8 187.3 L927.2 194.7 L927.8 188.7 L928.2 193.4 L928.8 188.6 L929.2 193.5 L929.8 188.1 L930.2 193.6 L930.8 188.3 L931.2 194.0 L931.8 188.9 L932.2 195.0 L932.8 189.4 L933.2 193.6 L933.8 185.5 L934.2 194.0 L934.8 186.8 L935.2 196.5 L935.8 188.7 L936.2 193.6 L936.8 189.5 L937.2 196.6 L937.8 189.5 L938.2 194.4 L938.8 188.5 L939.2 193.5 L939.8 188.7 L940.2 193.6 L940.8 188.5 L941.2 194.4 L941.8 189.0 L942.2 193.7 L942.8 188.9 L943.2 193.7 L943.8 189.5 L944.2 193.8 L944.8 186.5 L945.2 194.4 L945.8 186.3 L946.2 193.4 L946.8 185.5 L947.2 194.4 L947.8 187.3 L948.2 194.6 L948.8 187.9 L949.2 193.7 L949.8 187.5 L950.2 193.6 L950.8 189.2 L951.2 193.4 L951.8 188.9 L952.2 194.5 L952.8 189.1 L953.2 196.7 L953.8 189.5 L954.2 194.7 L954.8 189.3 L955.2 194.7 L955.8 187.3 L956.2 195.2 L956.8 189.6 L957.2 193.8 L957.8 188.3 L958.2 197.5 L958.8 189.6 L959.2 194.8 L959.8 187.9 L960.2 195.9 L960.8 189.0 L961.2 195.9 L961.8 188.7 L962.2 197.2 L962.8 189.6 L963.2 197.5 L963.8 188.8 L964.2 194.1 L964.8 189.5 L965.2 193.8 L965.8 187.6 L966.2 195.1 L966.8 189.4 L967.2 194.0 L967.8 185.9 L968.2 197.4 L968.8 180.5 L969.2 201.5 L969.8 183.6 L970.2 199.4 L970.8 186.8 L971.2 194.7 L971.8 188.5 L972.2 195.8 L972.8 185.9 L973.2 195.5 L973.8 188.1 L974.2 193.7 L974.8 185.6 L975.2 199.8 L975.8 184.7 L976.2 194.7 L976.8 186.3 L977.2 194.9 L977.8 188.9 L978.2 198.8 L978.8 187.5 L979.2 195.9 L979.8 189.3 L980.2 196.4 L980.8 185.3 L981.2 197.2 L981.8 187.5 L982.2 196.2 L982.8 187.1 L983.2 194.8 L983.8 188.8 L984.2 201.5 L984.8 187.3 L985.2 196.5 L985.8 189.1 L986.2 197.5 L986.8 188.5 L987.2 197.5 L987.8 189.5 L988.2 197.5 L988.8 187.3 L989.2 193.8 L989.8 186.9 L990.2 193.7 L990.8 189.3 L991.2 194.3 L991.8 189.2 L992.2 194.4 L992.8 186.0 L993.2 195.1 L993.8 187.8 L994.2 194.1 L994.8 187.3 L995.2 195.8 L995.8 187.9 L996.2 197.5 L996.8 187.0 L997.2 194.1 L997.8 189.5 L998.2 195.0 L998.8 186.9 L999.2 194.0 L999.8 188.3 L1000.2 196.1 L1000.8 187.2 L1001.2 193.3 L1001.8 188.6 L1002.2 193.4 L1002.8 189.5 L1003.2 195.9 L1003.8 188.8 L1004.2 194.8 L1004.8 188.7 L1005.2 194.0 L1005.8 189.3 L1006.2 194.0 L1006.8 186.8 L1007.2 194.8 L1007.8 189.1 L1008.2 193.5 L1008.8 189.2 L1009.2 195.2 L1009.8 188.8 L1010.2 195.0 L1010.8 187.1 L1011.2 193.5 L1011.8 187.9 L1012.2 193.4 L1012.8 187.0 L1013.2 193.7 L1013.8 188.6 L1014.2 199.0 L1014.8 185.3 L1015.2 197.0 L1015.8 183.6 L1016.2 196.4 L1016.8 185.3 L1017.2 194.6 L1017.8 188.4 L1018.2 197.8 L1018.8 188.5 L1019.2 197.6 L1019.8 189.3 L1020.2 196.1 L1020.8 189.4 L1021.2 194.5 L1021.8 189.7 L1022.2 193.6 L1022.8 185.5 L1023.2 194.3 L1023.8 187.1 L1024.2 193.8 L1024.8 189.0 L1025.2 193.5 L1025.8 188.4 L1026.2 196.4 L1026.8 188.6 L1027.2 194.1 L1027.8 185.6 L1028.2 196.8 L1028.8 188.0 L1029.2 193.5 L1029.8 187.7 L1030.2 194.6 L1030.8 176.6 L1031.2 197.8 L1031.8 178.0 L1032.2 197.1 L1032.8 188.2 L1033.2 195.3 L1033.8 187.5 L1034.2 197.6 L1034.8 188.5 L1035.2 194.2 L1035.8 185.4 L1036.2 193.5 L1036.8 186.9 L1037.2 195.1 L1037.8 188.4 L1038.2 194.3 L1038.8 187.5 L1039.2 196.7 L1039.8 187.7 L1040.2 195.5 L1040.8 189.6 L1041.2 193.9 L1041.8 189.4 L1042.2 197.5 L1042.8 186.3 L1043.2 193.6 L1043.8 188.3 L1044.2 194.7 L1044.8 189.6 L1045.2 194.1 L1045.8 187.6 L1046.2 194.9 L1046.8 189.2 L1047.2 195.5 L1047.8 189.1 L1048.2 194.5 L1048.8 188.8 L1049.2 197.5 L1049.8 188.1 L1050.2 195.8 L1050.8 186.5 L1051.2 195.1 L1051.8 183.1 L1052.2 196.8 L1052.8 186.0 L1053.2 195.0 L1053.8 172.0 L1054.2 212.6 L1054.8 166.0 L1055.2 225.5 L1055.8 166.0 L1056.2 212.0 L1056.8 170.0 L1057.2 202.0 L1057.8 176.0 L1058.2 198.2 L1058.8 188.2 L1059.2 195.3 L1059.8 188.7 L1060.2 195.0 L1060.8 187.8 L1061.2 200.1 L1061.8 183.0 L1062.2 194.6 L1062.8 188.1 L1063.2 200.0 L1063.8 188.4 L1064.2 194.9 L1064.8 187.6 L1065.2 194.3 L1065.8 188.2 L1066.2 195.2 L1066.8 187.8 L1067.2 199.9 L1067.8 188.2 L1068.2 194.6 L1068.8 183.7 L1069.2 195.4 L1069.8 185.0 L1070.2 196.3 L1070.8 185.6 L1071.2 194.9 L1071.8 188.5 L1072.2 197.2 L1072.8 187.5 L1073.2 195.9 L1073.8 186.5 L1074.2 197.1 L1074.8 188.2 L1075.2 195.1 L1075.8 183.5 L1076.2 195.7 L1076.8 188.2 L1077.2 196.3 L1077.8 188.3 L1078.2 197.3 L1078.8 188.8 L1079.2 197.9 L1079.8 187.1 L1080.2 195.0 L1080.8 183.1 L1081.2 194.8 L1081.8 188.3 L1082.2 194.3 L1082.8 187.2 L1083.2 197.1 L1083.8 186.4 L1084.2 195.3 L1084.8 185.3 L1085.2 194.4 L1085.8 188.1 L1086.2 196.3 L1086.8 183.1 L1087.2 196.3 L1087.8 185.5 L1088.2 198.3 L1088.8 186.0 L1089.2 204.1 L1089.8 183.5 L1090.2 196.6 L1090.8 186.3 L1091.2 200.2 L1091.8 186.6 L1092.2 195.7 L1092.8 182.0 L1093.2 197.2 L1093.8 186.0 L1094.2 198.1 L1094.8 181.7 L1095.2 195.2 L1095.8 187.1 L1096.2 195.0 L1096.8 186.8 L1097.2 196.6 L1097.8 183.3 L1098.2 197.6 L1098.8 186.1 L1099.2 196.0 L1099.8 186.2 L1100.2 195.4 L1100.8 183.7 L1101.2 198.5 L1101.8 183.9 L1102.2 194.9 L1102.8 185.8 L1103.2 197.9 L1103.8 186.9 L1104.2 200.0 L1104.8 183.0 L1105.2 197.7 L1105.8 176.0 L1106.2 196.9 L1106.8 183.6 L1107.2 194.7 L1107.8 187.1 L1108.2 195.9 L1108.8 187.6 L1109.2 194.2 L1109.8 189.2 L1110.2 195.3 L1110.8 186.3 L1111.2 194.2 L1111.8 189.0 L1112.2 194.1 L1112.8 189.2 L1113.2 195.6 L1113.8 184.7 L1114.2 196.4 L1114.8 188.7 L1115.2 195.7 L1115.8 189.3 L1116.2 196.7 L1116.8 188.8 L1117.2 193.6 L1117.8 187.8 L1118.2 193.8 L1118.8 188.9 L1119.2 193.6 L1119.8 188.5 L1120.2 194.9 L1120.8 186.7 L1121.2 193.6 L1121.8 186.5 L1122.2 193.7 L1122.8 189.1 L1123.2 195.2 L1123.8 188.8 L1124.2 194.2 L1124.8 188.1 L1125.2 193.9 L1125.8 186.9 L1126.2 193.9 L1126.8 186.5 L1127.2 196.2 L1127.8 188.2 L1128.2 193.5 L1128.8 187.0 L1129.2 193.5 L1129.8 188.4 L1130.2 194.4 L1130.8 189.4 L1131.2 195.1 L1131.8 187.4 L1132.2 194.9 L1132.8 188.7 L1133.2 194.7 L1133.8 188.1 L1134.2 193.9 L1134.8 186.2 L1135.2 197.9 L1135.8 186.9 L1136.2 197.9 L1136.8 188.9 L1137.2 197.9 L1137.8 189.4 L1138.2 194.5 L1138.8 189.3 L1139.2 194.5 L1139.8 187.7 L1140.2 195.5 L1140.8 188.5 L1141.2 194.1 L1141.8 189.2 L1142.2 194.3 L1142.8 189.0 L1143.2 193.8 L1143.8 187.4 L1144.2 194.6 L1144.8 188.6 L1145.2 193.8 L1145.8 187.6 L1146.2 193.8 L1146.8 189.0 L1147.2 194.8 L1147.8 187.6 L1148.2 197.9" stroke="#FFFF00" stroke-width="1.3" fill="none" stroke-linejoin="bevel"/>
<rect x="665.5" y="65.5" width="501" height="253" fill="none" stroke="#000" stroke-width="1"/>
<path d="M672.5 318.5H1145.5" stroke="#000" fill="none"/>
<path d="M672.5 318.5V326.5" stroke="#000" fill="none"/>
<path d="M767.5 318.5V326.5" stroke="#000" fill="none"/>
<path d="M861.5 318.5V326.5" stroke="#000" fill="none"/>
<path d="M956.5 318.5V326.5" stroke="#000" fill="none"/>
<path d="M1051.5 318.5V326.5" stroke="#000" fill="none"/>
<path d="M1145.5 318.5V326.5" stroke="#000" fill="none"/>
<text x="672.5" y="347.6" text-anchor="middle" class="t" textLength="28.92" lengthAdjust="spacingAndGlyphs">2000</text>
<text x="767.5" y="347.6" text-anchor="middle" class="t" textLength="28.92" lengthAdjust="spacingAndGlyphs">2005</text>
<text x="861.5" y="347.6" text-anchor="middle" class="t" textLength="28.92" lengthAdjust="spacingAndGlyphs">2010</text>
<text x="956.5" y="347.6" text-anchor="middle" class="t" textLength="28.92" lengthAdjust="spacingAndGlyphs">2015</text>
<text x="1051.5" y="347.6" text-anchor="middle" class="t" textLength="28.92" lengthAdjust="spacingAndGlyphs">2020</text>
<text x="1145.5" y="347.6" text-anchor="middle" class="t" textLength="28.92" lengthAdjust="spacingAndGlyphs">2025</text>
<path d="M665.5 83.5V299.5" stroke="#000" fill="none"/>
<path d="M665.5 299.5H656.5" stroke="#000" fill="none"/>
<text transform="translate(646.6 299.5) rotate(-90)" text-anchor="middle" class="t" textLength="22.41" lengthAdjust="spacingAndGlyphs">-0.4</text>
<path d="M665.5 245.5H656.5" stroke="#000" fill="none"/>
<text transform="translate(646.6 245.5) rotate(-90)" text-anchor="middle" class="t" textLength="22.41" lengthAdjust="spacingAndGlyphs">-0.2</text>
<path d="M665.5 191.5H656.5" stroke="#000" fill="none"/>
<text transform="translate(646.6 191.5) rotate(-90)" text-anchor="middle" class="t" textLength="18.08" lengthAdjust="spacingAndGlyphs">0.0</text>
<path d="M665.5 137.5H656.5" stroke="#000" fill="none"/>
<text transform="translate(646.6 137.5) rotate(-90)" text-anchor="middle" class="t" textLength="18.08" lengthAdjust="spacingAndGlyphs">0.2</text>
<path d="M665.5 83.5H656.5" stroke="#000" fill="none"/>
<text transform="translate(646.6 83.5) rotate(-90)" text-anchor="middle" class="t" textLength="18.08" lengthAdjust="spacingAndGlyphs">0.4</text>
<rect x="1002.5" y="65.5" width="164" height="48" fill="#fff" stroke="#000"/>
<path d="M1014 80.5H1039" stroke="#0000FF" stroke-width="2" fill="none"/>
<text x="1050" y="86.80" class="t" textLength="107.6" lengthAdjust="spacingAndGlyphs">CRNT stock return</text>
<path d="M1014 97.5H1039" stroke="#FFFF00" stroke-width="1" fill="none"/>
<text x="1050" y="102.74" class="t" textLength="110.6" lengthAdjust="spacingAndGlyphs">GSPC stock return</text>
<path d="M78.0 709.0 L244.0 709.0 L244.5 708.3 L251.0 708.3 L251.5 709.0 L252.5 709.0 L253.0 708.3 L266.0 708.2 L270.0 707.5 L273.0 706.8 L275.0 706.2 L279.0 704.8 L283.0 703.7 L285.7 702.7 L288.0 701.6 L291.0 699.0 L293.0 696.9 L295.5 693.0 L299.2 686.2 L302.7 679.5 L305.2 670.5 L307.5 662.2 L310.5 655.5 L312.7 650.2 L314.8 646.3 L316.5 644.7 L318.2 646.3 L320.2 650.2 L322.5 657.7 L325.5 666.7 L328.5 675.0 L331.5 681.7 L336.0 688.5 L339.0 694.5 L343.5 698.7 L349.5 702.3 L357.0 705.0 L364.5 707.0 L375.0 707.7 L385.0 708.2 L395.0 708.3 L395.5 709.0 L403.0 709.0 L403.5 708.3 L412.0 708.3 L412.5 709.0 L555.0 709.0" stroke="#228B22" stroke-width="2" fill="none" stroke-linejoin="round"/>
<path d="M65.5 709.5H566.5" stroke="#BEBEBE" fill="none"/>
<path d="M288.0 708.5 L292.5 707.7 L298.5 705.7 L303.0 702.0 L306.0 695.2 L307.5 685.5 L308.7 673.5 L310.5 660.0 L312.0 645.0 L312.7 630.0 L314.0 615.0 L314.7 600.0 L315.6 553.0 L316.5 501.5 L317.4 478.8 L318.0 479.0 L318.8 503.0 L320.5 541.0 L321.8 575.0 L322.6 607.0 L323.7 630.0 L324.5 645.0 L325.5 660.0 L326.7 675.0 L328.2 690.0 L330.0 699.0 L333.0 705.0 L337.5 707.2 L342.0 708.0 L347.0 708.5M267 708.5H274M281 708.5H285M349 708.5H352M354 708.5H356M359 708.5H363M365 708.5H366" stroke="#FFA500" stroke-width="1" fill="none"/>
<rect x="65.5" y="465.5" width="501" height="253" fill="none" stroke="#000" stroke-width="1"/>
<path d="M104.5 718.5H531.5" stroke="#000" fill="none"/>
<path d="M104.5 718.5V726.5" stroke="#000" fill="none"/>
<path d="M210.5 718.5V726.5" stroke="#000" fill="none"/>
<path d="M317.5 718.5V726.5" stroke="#000" fill="none"/>
<path d="M424.5 718.5V726.5" stroke="#000" fill="none"/>
<path d="M531.5 718.5V726.5" stroke="#000" fill="none"/>
<text x="104.5" y="747.6" text-anchor="middle" class="t" textLength="22.41" lengthAdjust="spacingAndGlyphs">-0.4</text>
<text x="210.5" y="747.6" text-anchor="middle" class="t" textLength="22.41" lengthAdjust="spacingAndGlyphs">-0.2</text>
<text x="317.5" y="747.6" text-anchor="middle" class="t" textLength="18.08" lengthAdjust="spacingAndGlyphs">0.0</text>
<text x="424.5" y="747.6" text-anchor="middle" class="t" textLength="18.08" lengthAdjust="spacingAndGlyphs">0.2</text>
<text x="531.5" y="747.6" text-anchor="middle" class="t" textLength="18.08" lengthAdjust="spacingAndGlyphs">0.4</text>
<path d="M65.5 468.5V709.5" stroke="#000" fill="none"/>
<path d="M65.5 709.5H56.5" stroke="#000" fill="none"/>
<text transform="translate(46.6 709.5) rotate(-90)" text-anchor="middle" class="t" textLength="7.23" lengthAdjust="spacingAndGlyphs">0</text>
<path d="M65.5 669.5H56.5" stroke="#000" fill="none"/>
<text transform="translate(46.6 669.5) rotate(-90)" text-anchor="middle" class="t" textLength="14.47" lengthAdjust="spacingAndGlyphs">10</text>
<path d="M65.5 628.5H56.5" stroke="#000" fill="none"/>
<text transform="translate(46.6 628.5) rotate(-90)" text-anchor="middle" class="t" textLength="14.47" lengthAdjust="spacingAndGlyphs">20</text>
<path d="M65.5 588.5H56.5" stroke="#000" fill="none"/>
<text transform="translate(46.6 588.5) rotate(-90)" text-anchor="middle" class="t" textLength="14.47" lengthAdjust="spacingAndGlyphs">30</text>
<path d="M65.5 548.5H56.5" stroke="#000" fill="none"/>
<text transform="translate(46.6 548.5) rotate(-90)" text-anchor="middle" class="t" textLength="14.47" lengthAdjust="spacingAndGlyphs">40</text>
<path d="M65.5 508.5H56.5" stroke="#000" fill="none"/>
<text transform="translate(46.6 508.5) rotate(-90)" text-anchor="middle" class="t" textLength="14.47" lengthAdjust="spacingAndGlyphs">50</text>
<path d="M65.5 468.5H56.5" stroke="#000" fill="none"/>
<text transform="translate(46.6 468.5) rotate(-90)" text-anchor="middle" class="t" textLength="14.47" lengthAdjust="spacingAndGlyphs">60</text>
<rect x="65.5" y="465.5" width="195" height="48" fill="#fff" stroke="#000"/>
<path d="M77 480.5H102" stroke="#228B22" stroke-width="2" fill="none"/>
<text x="113" y="486.80" class="t" textLength="138.8" lengthAdjust="spacingAndGlyphs">CRNT return distribution</text>
<path d="M77 497.5H102" stroke="#FFA500" stroke-width="1" fill="none"/>
<text x="113" y="502.74" class="t" textLength="142.1" lengthAdjust="spacingAndGlyphs">GSPC return distribution</text>
<clipPath id="c4"><rect x="665" y="465" width="502" height="254"/></clipPath><g clip-path="url(#c4)">
<path d="M683.0 716.5H690.0" stroke="#000" fill="none"/>
<path d="M689.0 716.5H695.0" stroke="#000" fill="none"/>
<path d="M699.0 716.5H705.0" stroke="#000" fill="none"/>
<path d="M704.0 716.5H710.0" stroke="#000" fill="none"/>
<path d="M715.0 716.5H721.0" stroke="#000" fill="none"/>
<path d="M720.0 716.5H726.0" stroke="#000" fill="none"/>
<path d="M730.0 716.5H737.0" stroke="#000" fill="none"/>
<path d="M736.0 716.5H742.0" stroke="#000" fill="none"/>
<path d="M746.0 716.5H752.0" stroke="#000" fill="none"/>
<path d="M751.0 716.5H757.0" stroke="#000" fill="none"/>
<path d="M762.0 716.5H768.0" stroke="#000" fill="none"/>
<path d="M767.0 716.5H773.0" stroke="#000" fill="none"/>
<rect x="777.5" y="715.5" width="5.0" height="1.0" fill="#0000FF" stroke="#000"/>
<path d="M782.0 716.5H789.0" stroke="#000" fill="none"/>
<path d="M793.0 716.5H799.0" stroke="#000" fill="none"/>
<path d="M798.0 716.5H804.0" stroke="#000" fill="none"/>
<rect x="808.5" y="715.5" width="6.0" height="1.0" fill="#0000FF" stroke="#000"/>
<path d="M814.0 716.5H820.0" stroke="#000" fill="none"/>
<rect x="824.5" y="715.5" width="5.0" height="1.0" fill="#0000FF" stroke="#000"/>
<path d="M829.0 716.5H836.0" stroke="#000" fill="none"/>
<rect x="840.5" y="715.5" width="5.0" height="1.0" fill="#0000FF" stroke="#000"/>
<path d="M845.0 716.5H851.0" stroke="#000" fill="none"/>
<rect x="855.5" y="713.5" width="6.0" height="3.0" fill="#0000FF" stroke="#000"/>
<path d="M861.0 716.5H867.0" stroke="#000" fill="none"/>
<rect x="871.5" y="706.5" width="5.0" height="10.0" fill="#0000FF" stroke="#000"/>
<rect x="876.5" y="715.5" width="5.0" height="1.0" fill="#FFFF00" stroke="#000"/>
<rect x="887.5" y="680.5" width="5.0" height="36.0" fill="#0000FF" stroke="#000"/>
<rect x="892.5" y="712.5" width="5.0" height="4.0" fill="#FFFF00" stroke="#000"/>
<rect x="902.5" y="592.5" width="6.0" height="124.0" fill="#0000FF" stroke="#000"/>
<rect x="908.5" y="612.5" width="5.0" height="104.0" fill="#FFFF00" stroke="#000"/>
<rect x="918.5" y="588.5" width="5.0" height="128.0" fill="#0000FF" stroke="#000"/>
<rect x="923.5" y="462.5" width="5.0" height="254.0" fill="#FFFF00" stroke="#000"/>
<rect x="934.5" y="672.5" width="5.0" height="44.0" fill="#0000FF" stroke="#000"/>
<rect x="939.5" y="710.5" width="5.0" height="6.0" fill="#FFFF00" stroke="#000"/>
<rect x="949.5" y="703.5" width="5.0" height="13.0" fill="#0000FF" stroke="#000"/>
<rect x="954.5" y="715.5" width="6.0" height="1.0" fill="#FFFF00" stroke="#000"/>
<rect x="965.5" y="710.5" width="5.0" height="6.0" fill="#0000FF" stroke="#000"/>
<path d="M970.0 716.5H976.0" stroke="#000" fill="none"/>
<rect x="981.5" y="712.5" width="5.0" height="4.0" fill="#0000FF" stroke="#000"/>
<path d="M986.0 716.5H992.0" stroke="#000" fill="none"/>
<rect x="996.5" y="715.5" width="5.0" height="1.0" fill="#0000FF" stroke="#000"/>
<path d="M1001.0 716.5H1008.0" stroke="#000" fill="none"/>
<rect x="1012.5" y="715.5" width="5.0" height="1.0" fill="#0000FF" stroke="#000"/>
<path d="M1017.0 716.5H1023.0" stroke="#000" fill="none"/>
<path d="M1027.0 716.5H1034.0" stroke="#000" fill="none"/>
<path d="M1033.0 716.5H1039.0" stroke="#000" fill="none"/>
<path d="M1043.0 716.5H1049.0" stroke="#000" fill="none"/>
<path d="M1048.0 716.5H1055.0" stroke="#000" fill="none"/>
<path d="M1059.0 716.5H1065.0" stroke="#000" fill="none"/>
<path d="M1064.0 716.5H1070.0" stroke="#000" fill="none"/>
<path d="M1074.0 716.5H1081.0" stroke="#000" fill="none"/>
<path d="M1080.0 716.5H1086.0" stroke="#000" fill="none"/>
<path d="M1090.0 716.5H1096.0" stroke="#000" fill="none"/>
<path d="M1095.0 716.5H1101.0" stroke="#000" fill="none"/>
<path d="M1106.0 716.5H1112.0" stroke="#000" fill="none"/>
<path d="M1111.0 716.5H1117.0" stroke="#000" fill="none"/>
<path d="M1121.0 716.5H1128.0" stroke="#000" fill="none"/>
<path d="M1127.0 716.5H1133.0" stroke="#000" fill="none"/>
<path d="M1137.0 716.5H1143.0" stroke="#000" fill="none"/>
<path d="M1142.0 716.5H1148.0" stroke="#000" fill="none"/>
</g>
<rect x="665.5" y="465.5" width="501" height="253" fill="none" stroke="#000" stroke-width="1"/>
<text x="689.07584" y="747.6" text-anchor="middle" class="t" textLength="84.8" lengthAdjust="spacingAndGlyphs">[-0.438,-0.409)</text>
<text x="798.56984" y="747.6" text-anchor="middle" class="t" textLength="85.3" lengthAdjust="spacingAndGlyphs">[-0.235,-0.206)</text>
<text x="908.06384" y="747.6" text-anchor="middle" class="t" textLength="105.3" lengthAdjust="spacingAndGlyphs">[-0.0322,-0.00325)</text>
<text x="1017.5578399999999" y="747.6" text-anchor="middle" class="t" textLength="62.4" lengthAdjust="spacingAndGlyphs">[0.171,0.2)</text>
<text x="1111.40984" y="747.6" text-anchor="middle" class="t" textLength="76.7" lengthAdjust="spacingAndGlyphs">[0.345,0.374)</text>
<path d="M665.5 479.5V716.5" stroke="#000" fill="none"/>
<path d="M665.5 716.5H656.5" stroke="#000" fill="none"/>
<text transform="translate(646.6 716.5) rotate(-90)" text-anchor="middle" class="t" textLength="7.23" lengthAdjust="spacingAndGlyphs">0</text>
<path d="M665.5 656.5H656.5" stroke="#000" fill="none"/>
<text transform="translate(646.6 656.5) rotate(-90)" text-anchor="middle" class="t" textLength="28.92" lengthAdjust="spacingAndGlyphs">1000</text>
<path d="M665.5 597.5H656.5" stroke="#000" fill="none"/>
<text transform="translate(646.6 597.5) rotate(-90)" text-anchor="middle" class="t" textLength="28.92" lengthAdjust="spacingAndGlyphs">2000</text>
<path d="M665.5 538.5H656.5" stroke="#000" fill="none"/>
<text transform="translate(646.6 538.5) rotate(-90)" text-anchor="middle" class="t" textLength="28.92" lengthAdjust="spacingAndGlyphs">3000</text>
<path d="M665.5 479.5H656.5" stroke="#000" fill="none"/>
<text transform="translate(646.6 479.5) rotate(-90)" text-anchor="middle" class="t" textLength="28.92" lengthAdjust="spacingAndGlyphs">4000</text>
<rect x="993.5" y="465.5" width="173" height="48" fill="#fff" stroke="#000"/>
<rect x="1005.5" y="477.5" width="9" height="8" fill="#0000FF" stroke="#000"/>
<text x="1026" y="486.80" class="t" textLength="131.0" lengthAdjust="spacingAndGlyphs">CRNT return frequency</text>
<rect x="1005.5" y="493.5" width="9" height="8" fill="#FFFF00" stroke="#000"/>
<text x="1026" y="502.74" class="t" textLength="134.0" lengthAdjust="spacingAndGlyphs">GSPC return frequency</text>
</g>
<text x="314.6" y="40.2" text-anchor="middle" class="h" textLength="220.4" lengthAdjust="spacingAndGlyphs">CRNT stock price time-series</text>
<text x="915" y="40.2" text-anchor="middle" class="h" textLength="350.4" lengthAdjust="spacingAndGlyphs">CRNT versus S&amp;P500 stock return time-series</text>
<text x="315" y="440.2" text-anchor="middle" class="h" textLength="354.3" lengthAdjust="spacingAndGlyphs">CRNT versus S&amp;P500 stock return distribution</text>
<text x="915" y="440.2" text-anchor="middle" class="h" textLength="390.5" lengthAdjust="spacingAndGlyphs">CRNT versus S&amp;P500 return frequency distribution</text>
<text x="914.4" y="780.4" text-anchor="middle" class="t" textLength="33.4" lengthAdjust="spacingAndGlyphs">return</text>
<text transform="translate(614.6 593.1) rotate(-90)" text-anchor="middle" class="t" textLength="57.09" lengthAdjust="spacingAndGlyphs">frequency</text>
</svg>
</body></html>
